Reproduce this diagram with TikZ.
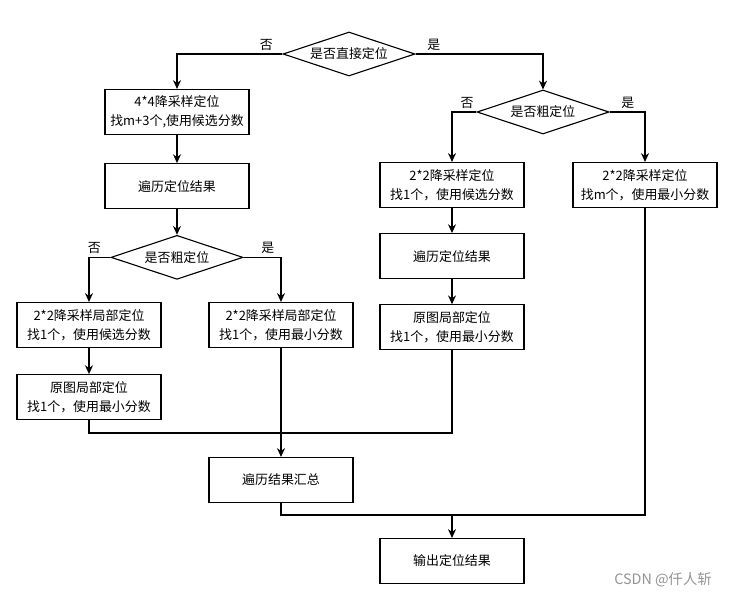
\documentclass[tikz,border=0pt]{standalone}
\usepackage{fontspec}
\setmainfont{Noto Sans CJK SC}
\usetikzlibrary{shapes.geometric, arrows.meta, positioning}
\tikzstyle{process} = [
  rectangle, minimum width=3.6cm, minimum height=1.125cm,
  text centered, align=center, draw=black, fill=white, line width=0.8pt
]
\tikzstyle{decision} = [
  diamond, aspect=3, minimum width=3.3cm, minimum height=1.1cm, inner sep=0pt,
  text centered, align=center, draw=black, fill=white, line width=0.8pt
]
\tikzstyle{lbl} = [inner sep=1pt]
\tikzstyle{watermark} = [inner sep=0pt, text=black!42, font=\fontsize{10.2}{12}\selectfont]
\tikzset{
  arrow/.style={
    line width=0.8pt,
    -{Stealth[length=2.2mm,width=2mm]}
  },
  link/.style={line width=0.8pt}
}

\begin{document}
\begin{tikzpicture}[
  node distance=0.7cm,
  font=\fontsize{9.2}{13.5}\selectfont
]
\useasboundingbox[fill=white] (0,0) rectangle (18.225,-14.9);

% ------------------------------------------------
% FILA 1 (arriba)
% ------------------------------------------------

\node[decision] (d1) at (8.725,-1.35) {是否直接定位};
\node[process] (n1) at (4.425,-2.8) {%
  4*4降采样定位\\
  找m+3个,使用候选分数
};
\node[decision] (d2) at (13.575,-2.8) {是否粗定位};

% ------------------------------------------------
% RAMA IZQUIERDA
% ------------------------------------------------

\node[process, below=of n1] (n2) {遍历定位结果};
\node[decision, below=0.64cm of n2] (d3) {是否粗定位};

\node[process] (n3) at (2.225,-8.125) {%
  2*2降采样局部定位\\
  找1个，使用候选分数
};
\node[process] (n4) at (7.025,-8.125) {%
  2*2降采样局部定位\\
  找1个，使用最小分数
};
\node[process, below=0.65cm of n3] (n5) {%
  原图局部定位\\
  找1个，使用最小分数
};

% ------------------------------------------------
% RAMA DERECHA
% ------------------------------------------------

\node[process] (n6) at (11.3,-4.625) {%
  2*2降采样定位\\
  找1个，使用候选分数
};
\node[process] (n7) at (16.125,-4.625) {%
  2*2降采样定位\\
  找m个，使用最小分数
};
\node[process, below=0.625cm of n6] (n8) {遍历定位结果};
\node[process, below=0.625cm of n8] (n9) {%
  原图局部定位\\
  找1个，使用最小分数
};

% ------------------------------------------------
% FILA FINAL
% ------------------------------------------------

\node[process] (n10) at (7.025,-12.0) {遍历结果汇总};
\node[process] (n11) at (11.3,-14.025) {输出定位结果};

\coordinate (j1) at (7.025,-10.825);
\coordinate (j2) at (11.3,-12.875);

% ------------------------------------------------
% ETIQUETAS
% ------------------------------------------------

\node[lbl, above left=0.05cm and 0.2cm of d1.west] (l1) {否};
\node[lbl, above right=0.05cm and 0.25cm of d1.east] (l2) {是};
\node[lbl, above left=0.05cm and 0.03cm of d2.west] (l3) {否};
\node[lbl, above right=0.05cm and 0.25cm of d2.east] (l4) {是};
\node[lbl, above left=0.05cm and 0.2cm of d3.west] (l5) {否};
\node[lbl, above right=0.05cm and 0.4cm of d3.east] (l6) {是};

\node[watermark] (wm) at (16.575,-14.5) {CSDN @仟人斩};

% ------------------------------------------------
% FLECHAS
% ------------------------------------------------

\draw[arrow] (d1.west) -| (n1.north);
\draw[arrow] (d1.east) -| (d2.north);

\draw[arrow] (n1) -- (n2);
\draw[arrow] (n2) -- (d3);
\draw[arrow] (d3.west) -| (n3.north);
\draw[arrow] (d3.east) -| (n4.north);
\draw[arrow] (n3) -- (n5);

\draw[arrow] (d2.west) -| (n6.north);
\draw[arrow] (d2.east) -| (n7.north);
\draw[arrow] (n6) -- (n8);
\draw[arrow] (n8) -- (n9);

% ------------------------------------------------
% CONEXIONES DE CIERRE
% ------------------------------------------------

\draw[link] (n5.south) |- (j1);
\draw[link] (n9.south) |- (j1);
\draw[arrow] (n4) -- (n10);

\draw[link] (n10.south) |- (j2);
\draw[link] (n7.south) |- (j2);
\draw[arrow] (j2) -- (n11);

\end{tikzpicture}
\end{document}
